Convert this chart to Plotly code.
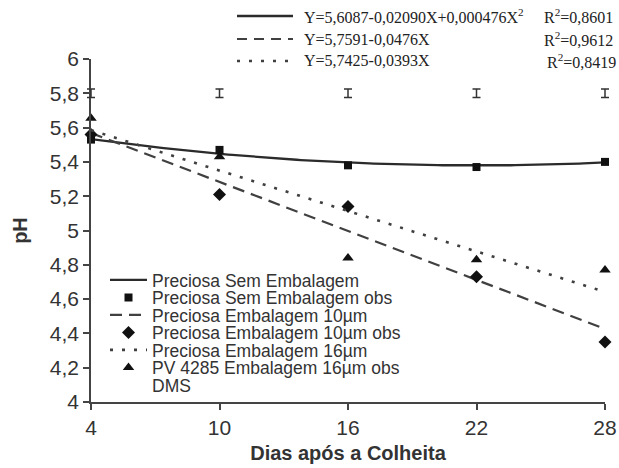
import numpy as np
import plotly.graph_objects as go

# ---------------- data ----------------
dias = [4, 10, 16, 22, 28]
sem_emb_obs = [5.53, 5.47, 5.38, 5.37, 5.40]
emb10_obs = [5.56, 5.21, 5.14, 4.73, 4.35]
pv16_obs = [5.655, 5.43, 4.84, 4.83, 4.77]
dms_y = [5.8, 5.8, 5.8, 5.8, 5.8]
dms_err = [0.025, 0.025, 0.025, 0.025, 0.025]

quad_coef = [5.6087, -0.02090, 0.000476]   # Preciosa Sem Embalagem
lin10_coef = [5.7591, -0.0476]             # Preciosa Embalagem 10um
lin16_coef = [5.7425, -0.0393]             # Preciosa Embalagem 16um

eq_texts = ["Y=5,6087-0,02090X+0,000476X<sup>2</sup>", "Y=5,7591-0,0476X", "Y=5,7425-0,0393X"]
r2_texts = ["R<sup>2</sup>=0,8601", "R<sup>2</sup>=0,9612", "R<sup>2</sup>=0,8419"]

x_ticks = [4, 10, 16, 22, 28]
x_range = [4, 28]
y_range = [4, 6]

# fitted curves from the printed equations
xf = np.linspace(x_range[0], x_range[1], 121)
y_quad = quad_coef[0] + quad_coef[1] * xf + quad_coef[2] * xf ** 2
xl = np.array(x_range)
y_l10 = lin10_coef[0] + lin10_coef[1] * xl
y_l16 = lin16_coef[0] + lin16_coef[1] * xl

# ---------------- layout helpers ----------------
W, H = 619, 468
AX_L, AX_R = 91, 605          # pixel extent of the x axis
T, B = 59, 66
PAD = 6                       # extra room so the DMS caps at the ends are not clipped
L, R = AX_L - PAD, W - AX_R - PAD
PW, PH = W - L - R, H - T - B


def px(xp):
    return (xp - L) / PW


def py(yp):
    return (H - B - yp) / PH


units_per_px = (x_range[1] - x_range[0]) / (AX_R - AX_L)
x2_range = [x_range[0] - PAD * units_per_px, x_range[1] + PAD * units_per_px]

LINE_C = "#2b2b2b"
MK_C = "#111111"

fig = go.Figure()

legend_rows = [280, 297.5, 315, 332.5, 350, 367.5, 385]
lg_names = ["legend", "legend2", "legend3", "legend4", "legend5", "legend6", "legend7"]

fig.add_trace(go.Scatter(x=xf, y=y_quad, mode="lines", name="Preciosa Sem Embalagem",
                         line=dict(color=LINE_C, width=2.3), legend=lg_names[0], showlegend=True))
fig.add_trace(go.Scatter(x=dias, y=sem_emb_obs, mode="markers", name="Preciosa Sem Embalagem obs",
                         marker=dict(symbol="square", size=8, color=MK_C), cliponaxis=False,
                         legend=lg_names[1], showlegend=True))
fig.add_trace(go.Scatter(x=xl, y=y_l10, mode="lines", name="Preciosa Embalagem 10µm",
                         line=dict(color="#404040", width=2.2, dash="12px,7px"), legend=lg_names[2],
                         showlegend=True))
fig.add_trace(go.Scatter(x=dias, y=emb10_obs, mode="markers", name="Preciosa Embalagem 10µm obs",
                         marker=dict(symbol="diamond", size=10, color=MK_C), cliponaxis=False,
                         legend=lg_names[3], showlegend=True))
fig.add_trace(go.Scatter(x=xl, y=y_l16, mode="lines", name="Preciosa Embalagem 16µm",
                         line=dict(color="#404040", width=2.6, dash="3px,9px"), legend=lg_names[4],
                         showlegend=True))
fig.add_trace(go.Scatter(x=dias, y=pv16_obs, mode="markers", name="PV 4285 Embalagem 16µm obs",
                         marker=dict(symbol="triangle-up", size=10, color=MK_C), cliponaxis=False,
                         legend=lg_names[5], showlegend=True))
fig.add_trace(go.Scatter(x=dias, y=dms_y, mode="markers", name="DMS", xaxis="x2", yaxis="y",
                         marker=dict(size=1, color="rgba(0,0,0,0)"), cliponaxis=False,
                         error_y=dict(type="data", array=dms_err, visible=True, color="#333333",
                                      thickness=1.5, width=4),
                         legend=lg_names[6], showlegend=True))

legend_font = dict(family="Liberation Sans, Arial, sans-serif", size=17.5, color="#333333")
lay_legends = {}
for name, yr in zip(lg_names, legend_rows):
    lay_legends[name] = dict(x=px(105), y=py(yr), xanchor="left", yanchor="middle", itemwidth=37,
                             bgcolor="rgba(0,0,0,0)", font=legend_font, borderwidth=0)

# top equation block
shapes = []
annotations = []
eq_rows = [16, 39, 61]
dashes = ["solid", "10px,7px", "3px,9px"]
widths = [2.3, 2.2, 2.6]
r2_x = [542, 542, 545]
for i in range(3):
    shapes.append(dict(type="line", xref="paper", yref="paper", x0=px(237), x1=px(293),
                       y0=py(eq_rows[i]), y1=py(eq_rows[i]),
                       line=dict(color=LINE_C if i == 0 else "#404040", width=widths[i], dash=dashes[i])))
    annotations.append(dict(xref="paper", yref="paper", x=px(302), y=py(eq_rows[i]), xanchor="left",
                            yanchor="middle", text=eq_texts[i], showarrow=False,
                            font=dict(family="Liberation Serif, Times New Roman, serif", size=16, color="#222222")))
    annotations.append(dict(xref="paper", yref="paper", x=px(r2_x[i]), y=py(eq_rows[i]), xanchor="left",
                            yanchor="middle", text=r2_texts[i], showarrow=False,
                            font=dict(family="Liberation Serif, Times New Roman, serif", size=16, color="#222222")))

fig.update_layout(
    width=W, height=H,
    margin=dict(l=L, r=R, t=T, b=B, pad=0, autoexpand=False),
    paper_bgcolor="white", plot_bgcolor="rgba(0,0,0,0)",
    separators=",.",
    showlegend=True,
    font=dict(family="Liberation Sans, Arial, sans-serif", color="#333333"),
    shapes=shapes, annotations=annotations,
    xaxis=dict(range=x_range, domain=[px(AX_L), px(AX_R)], anchor="y",
               tickvals=x_ticks, ticktext=[str(v) for v in x_ticks],
               automargin=False,
               showgrid=False, zeroline=False, showline=True, linecolor="#444444", linewidth=1.5,
               ticks="outside", ticklen=6, tickcolor="#444444", tickwidth=1.5,
               tickfont=dict(size=21, color="#333333"),
               title=dict(text="<b>Dias após a Colheita</b>", font=dict(size=20, color="#333333"), standoff=8)),
    xaxis2=dict(range=x2_range, domain=[0, 1], anchor="y", visible=False, showgrid=False,
                zeroline=False, fixedrange=True),
    yaxis=dict(range=y_range, dtick=0.2, tick0=4, automargin=False, anchor="x",
               showgrid=False, zeroline=False, showline=True, linecolor="#444444", linewidth=1.5,
               ticks="outside", ticklen=6, tickcolor="#444444", tickwidth=1.5,
               tickfont=dict(size=21, color="#333333"),
               title=dict(text="<b>pH</b>", font=dict(size=20, color="#333333"), standoff=17)),
    **lay_legends,
)

fig.write_html("out.html", config={"displayModeBar": False},
               post_script="document.body.style.margin='0';document.body.style.padding='0';")
